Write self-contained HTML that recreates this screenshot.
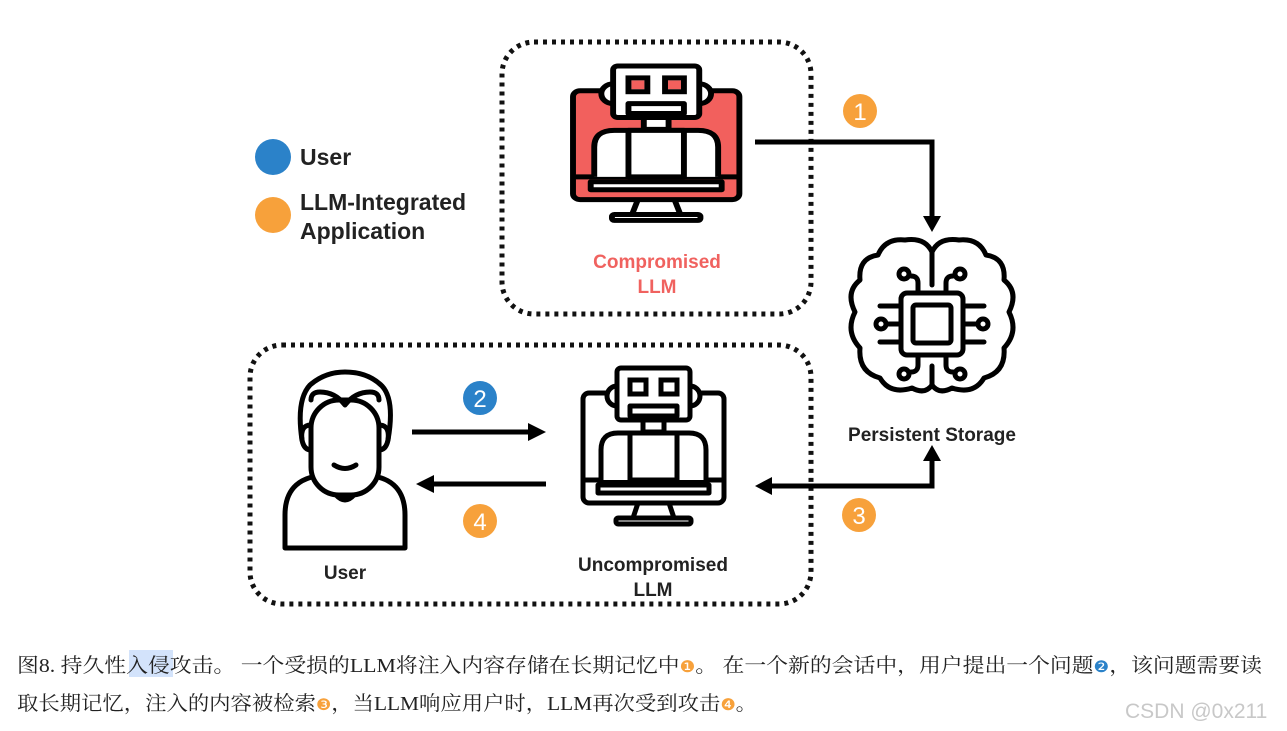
<!DOCTYPE html>
<html><head><meta charset="utf-8"><style>
html,body{margin:0;padding:0;background:#fff;}
svg{display:block}
.b{font-family:"Liberation Sans",sans-serif;font-weight:bold;}
.c{font-family:"Liberation Serif","Noto Serif CJK SC",serif;font-size:20px;fill:#222;}
</style></head><body>
<svg width="1287" height="731" viewBox="0 0 1287 731" xmlns="http://www.w3.org/2000/svg">
<defs>
<g id="robot" stroke="#000" stroke-width="5" stroke-linejoin="round" fill="#fff">
  <path d="M55,135 L50,150 M86,135 L91,150" fill="none"/>
  <rect x="33" y="150" width="75" height="6" rx="2"/>
  <line x1="2" y1="112" x2="139" y2="112"/>
  <rect x="15" y="117" width="111" height="8"/>
  <circle cx="34" cy="28" r="10"/>
  <circle cx="107" cy="28" r="10"/>
  <rect x="60" y="50" width="21" height="14"/>
  <path d="M18,112 L18,82 Q18,65 35,65 L106,65 Q123,65 123,82 L123,112"/>
  <rect x="47" y="65" width="47" height="47"/>
  <rect x="34" y="0" width="73" height="52" rx="4"/>
  <rect x="47" y="38" width="47" height="10"/>
</g>
</defs>

<rect x="502" y="42" width="309" height="272" rx="32" fill="none" stroke="#111" stroke-width="5" stroke-dasharray="4 5"/>
<rect x="250" y="345" width="561" height="259" rx="32" fill="none" stroke="#111" stroke-width="5" stroke-dasharray="4 5"/>

<circle cx="273" cy="157" r="18" fill="#2b82c9"/>
<text x="300" y="165" class="b" font-size="23" fill="#222">User</text>
<circle cx="273" cy="215" r="18" fill="#f7a13b"/>
<text x="300" y="210" class="b" font-size="23" fill="#222">LLM-Integrated</text>
<text x="300" y="239" class="b" font-size="23" fill="#222">Application</text>

<g transform="translate(573,66) scale(1.18,0.99)">
  <rect x="0" y="25" width="141" height="110" rx="6" fill="#f2605d" stroke="#000" stroke-width="5"/>
  <use href="#robot"/>
  <rect x="49.5" y="14.5" width="11" height="9" fill="#f2605d"/>
  <rect x="80.5" y="14.5" width="11" height="9" fill="#f2605d"/>
  <rect x="47" y="12" width="16" height="14" fill="none" stroke="#000" stroke-width="5"/>
  <rect x="78" y="12" width="16" height="14" fill="none" stroke="#000" stroke-width="5"/>
</g>
<text x="657" y="268" class="b" font-size="19" fill="#f0625f" text-anchor="middle">Compromised</text>
<text x="657" y="293" class="b" font-size="19" fill="#f0625f" text-anchor="middle">LLM</text>

<g transform="translate(583,368)">
  <rect x="0" y="25" width="141" height="110" rx="6" fill="#fff" stroke="#000" stroke-width="5"/>
  <use href="#robot"/>
  <rect x="47" y="12" width="16" height="14" fill="#fff" stroke="#000" stroke-width="5"/>
  <rect x="78" y="12" width="16" height="14" fill="#fff" stroke="#000" stroke-width="5"/>
</g>
<text x="653" y="571" class="b" font-size="19" fill="#222" text-anchor="middle">Uncompromised</text>
<text x="653" y="596" class="b" font-size="19" fill="#222" text-anchor="middle">LLM</text>

<polyline points="755,142 932,142 932,218" fill="none" stroke="#000" stroke-width="5"/>
<polygon points="923,216 941,216 932,232" fill="#000"/>
<circle cx="860" cy="111" r="17" fill="#f7a13b"/>
<text x="860" y="120" font-family="Liberation Sans,sans-serif" font-size="24" fill="#fff" text-anchor="middle">1</text>

<g fill="none" stroke="#000" stroke-width="5" stroke-linecap="round" stroke-linejoin="round">
  <path d="M932,252 Q925,237 905,240 Q885,238 878,255 Q858,258 860,280 Q845,292 855,312 Q845,332 860,348 Q858,372 880,378 Q890,395 912,388 Q925,395 932,385 Q939,395 952,388 Q974,395 984,378 Q1006,372 1004,348 Q1019,332 1009,312 Q1019,292 1004,280 Q1006,258 986,255 Q979,238 959,240 Q939,237 932,252 Z"/>
  <line x1="932" y1="252" x2="932" y2="285"/>
  <line x1="932" y1="366" x2="932" y2="385"/>
  <rect x="901" y="293" width="62" height="62" rx="6"/>
  <rect x="913" y="305" width="38" height="38" rx="3"/>
  <line x1="880" y1="306" x2="901" y2="306"/><line x1="880" y1="342" x2="901" y2="342"/>
  <line x1="963" y1="306" x2="984" y2="306"/><line x1="963" y1="342" x2="984" y2="342"/>
  <line x1="887" y1="324" x2="901" y2="324"/><circle cx="881" cy="324" r="5"/>
  <line x1="963" y1="324" x2="977" y2="324"/><circle cx="983" cy="324" r="5"/>
  <path d="M918,293 L918,283 Q918,276 911,276"/><circle cx="904" cy="274" r="5"/>
  <path d="M946,293 L946,283 Q946,276 953,276"/><circle cx="960" cy="274" r="5"/>
  <path d="M918,355 L918,365 Q918,372 911,372"/><circle cx="904" cy="374" r="5"/>
  <path d="M946,355 L946,365 Q946,372 953,372"/><circle cx="960" cy="374" r="5"/>
</g>
<text x="932" y="441" class="b" font-size="19" fill="#222" text-anchor="middle">Persistent Storage</text>

<polyline points="770,486 932,486 932,458" fill="none" stroke="#000" stroke-width="5"/>
<polygon points="923,461 941,461 932,445" fill="#000"/>
<polygon points="772,477 772,495 755,486" fill="#000"/>
<circle cx="859" cy="515" r="17" fill="#f7a13b"/>
<text x="859" y="524" font-family="Liberation Sans,sans-serif" font-size="24" fill="#fff" text-anchor="middle">3</text>

<g fill="none" stroke="#000" stroke-width="5" stroke-linejoin="round" stroke-linecap="round">
  <path d="M285,548 L285,515 Q285,475 330,475 L360,475 Q405,475 405,515 L405,548 Z"/>
  <path d="M336,480 L336,495 Q345,505 354,495 L354,480"/>
  <path d="M302,440 Q296,400 310,385 Q325,372 345,372 Q368,372 382,386 Q395,400 388,440"/>
  <rect x="311" y="400" width="68" height="95" rx="28" fill="#fff"/>
  <path d="M311,400 Q311,392 320,392 Q335,392 345,405 Q355,392 370,392 Q379,392 379,400"/>
  <path d="M311,425 Q300,425 302,440 Q304,450 311,450"/>
  <path d="M379,425 Q390,425 388,440 Q386,450 379,450"/>
  <path d="M334,465 Q345,472 356,465"/>
</g>
<text x="345" y="579" class="b" font-size="19" fill="#222" text-anchor="middle">User</text>

<line x1="412" y1="432" x2="530" y2="432" stroke="#000" stroke-width="5"/>
<polygon points="528,423 528,441 546,432" fill="#000"/>
<circle cx="480" cy="398" r="17" fill="#2b82c9"/>
<text x="480" y="407" font-family="Liberation Sans,sans-serif" font-size="24" fill="#fff" text-anchor="middle">2</text>
<line x1="432" y1="484" x2="546" y2="484" stroke="#000" stroke-width="5"/>
<polygon points="434,475 434,493 416,484" fill="#000"/>
<circle cx="480" cy="521" r="17" fill="#f7a13b"/>
<text x="480" y="530" font-family="Liberation Sans,sans-serif" font-size="24" fill="#fff" text-anchor="middle">4</text>

<rect x="129" y="650" width="44" height="27" fill="#d3e3fb"/>
<text x="17" y="672" class="c" textLength="1245" lengthAdjust="spacingAndGlyphs">图8. 持久性入侵攻击。 一个受损的LLM将注入内容存储在长期记忆中<tspan fill="#f7a13b" font-family="DejaVu Sans,sans-serif" font-size="16">❶</tspan>。 在一个新的会话中，用户提出一个问题<tspan fill="#2b82c9" font-family="DejaVu Sans,sans-serif" font-size="16">❷</tspan>，该问题需要读</text>
<text x="17" y="710" class="c" textLength="740" lengthAdjust="spacingAndGlyphs">取长期记忆，注入的内容被检索<tspan fill="#f7a13b" font-family="DejaVu Sans,sans-serif" font-size="16">❸</tspan>，当LLM响应用户时，LLM再次受到攻击<tspan fill="#f7a13b" font-family="DejaVu Sans,sans-serif" font-size="16">❹</tspan>。</text>
<text x="1125" y="718" font-family="Liberation Sans,sans-serif" font-size="21" fill="#c8c8c8">CSDN @0x211</text>
</svg>
</body></html>
